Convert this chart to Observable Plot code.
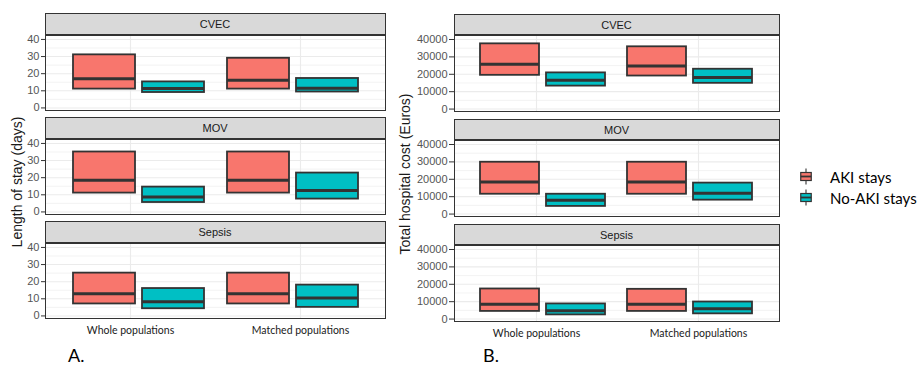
<!DOCTYPE html>
<html>
<head>
<meta charset="utf-8">
<script src="https://cdn.jsdelivr.net/npm/d3@7"></script>
<script src="https://cdn.jsdelivr.net/npm/@observablehq/plot@0.6"></script>
<style>
  html, body { margin: 0; padding: 0; background: #fff; }
  #root { position: relative; width: 919px; height: 367px; overflow: hidden; background: #fff;
          font-family: "Liberation Sans", Arial, sans-serif; }
  .layer { position: absolute; top: 0; }
  .strip { position: absolute; box-sizing: border-box; background: #d9d9d9; border: 1px solid #333;
           color: #1a1a1a; font-size: 11px; display: flex; align-items: center; justify-content: center; }
  .ytitle { position: absolute; white-space: nowrap; font-size: 14px; color: #1a1a1a;
            transform: translate(-50%, -50%) rotate(-90deg); }
  .tag { position: absolute; font-family: Lato, sans-serif; font-size: 18px; line-height: 1; color: #000; }
  .legend { position: absolute; font-family: Lato, sans-serif; font-size: 15px; color: #000; }
  .legend .row { display: flex; align-items: center; height: 21px; }
  .legend .row span { margin-left: 18px; }
</style>
</head>
<body>
<div id="root"></div>
<script>
// ---------- data ----------
const diseases = ["CVEC", "MOV", "Sepsis"];
const populations = ["Whole populations", "Matched populations"];
const groups = ["AKI stays", "No-AKI stays"];
const groupColors = ["#F8766D", "#00BFC4"];

// Length of stay (days): [lower hinge, median, upper hinge] per disease (CVEC, MOV, Sepsis)
const losAkiWhole     = [[11, 17, 31],     [11, 18.5, 35],   [7, 13, 25]];
const losNoAkiWhole   = [[9, 11.3, 15.2],  [5.5, 8.7, 14.5], [4.2, 8.3, 16]];
const losAkiMatched   = [[11, 16.2, 29],   [11, 18.5, 35],   [7, 13, 25]];
const losNoAkiMatched = [[9.3, 11.5, 17.2],[7.5, 12.5, 22.7],[5, 10.4, 18]];

// Total hospital cost (Euros): [lower hinge, median, upper hinge] per disease
const costAkiWhole     = [[19400, 25800, 37500], [11400, 18500, 29800], [4400, 8500, 17300]];
const costNoAkiWhole   = [[13200, 16500, 20800], [4400, 8000, 11400],   [2400, 4800, 8700]];
const costAkiMatched   = [[19000, 24800, 35800], [11400, 18500, 29800], [4400, 8500, 17100]];
const costNoAkiMatched = [[14800, 18200, 22900], [8000, 11900, 17800],  [3000, 5900, 9800]];

const losTicks = [0, 10, 20, 30, 40];
const losMinor = [5, 15, 25, 35];
const costTicks = [0, 10000, 20000, 30000, 40000];
const costMinor = [5000, 15000, 25000, 35000];

const titles = ["Length of stay (days)", "Total hospital cost (Euros)"];
const tags = ["A.", "B."];

// ---------- build tables ----------
function boxRows(akiWhole, noAkiWhole, akiMatched, noAkiMatched) {
  const table = [[0, 0, akiWhole], [0, 1, noAkiWhole], [1, 0, akiMatched], [1, 1, noAkiMatched]];
  return table.flatMap(([p, g, vals]) => vals.map(([q1, med, q3], i) =>
    ({disease: diseases[i], pop: populations[p], group: groups[g], q1, med, q3})));
}
function gridRows(values) {
  return diseases.flatMap(d => values.map(v => ({disease: d, v})));
}

const root = document.getElementById("root");

function panel(cfg) {
  const H = 367;
  const fyOpts = {domain: diseases, paddingInner: cfg.padY, paddingOuter: 0, axis: null};
  const common = {
    width: cfg.width, height: H,
    marginLeft: cfg.marginLeft, marginRight: cfg.marginRight,
    marginTop: cfg.marginTop, marginBottom: cfg.marginBottom
  };
  const bg = Plot.plot({
    ...common,
    style: {fontFamily: "'Liberation Sans', Arial, sans-serif", fontSize: "11px", background: "transparent", overflow: "visible"},
    x: {domain: populations, paddingInner: 0.1, paddingOuter: 0.15},
    y: {domain: cfg.domain},
    fy: fyOpts,
    marks: [
      Plot.ruleY(gridRows(cfg.minor), {y: "v", fy: "disease", stroke: "#ebebeb", strokeWidth: 0.6}),
      Plot.ruleY(gridRows(cfg.ticks), {y: "v", fy: "disease", stroke: "#ebebeb", strokeWidth: 1.1}),
      Plot.ruleX(populations, {x: d => d, stroke: "#ebebeb", strokeWidth: 1.1}),
      Plot.frame({stroke: "#333", strokeWidth: 1}),
      Plot.axisY(cfg.ticks, {tickSize: cfg.tickSize, tickPadding: 2, stroke: "#333", fill: "#555",
                             tickFormat: d3.format("d"), label: null}),
      Plot.axisX({tickSize: 0, tickPadding: 8, fontFamily: "Lato, sans-serif", fontSize: 10.5,
                  fill: "#1a1a1a", label: null})
    ]
  });
  bg.classList.add("layer");
  bg.style.left = cfg.left + "px";
  root.appendChild(bg);

  const fg = Plot.plot({
    ...common,
    style: {background: "transparent", overflow: "visible"},
    fx: {domain: populations, paddingInner: 0.1, paddingOuter: 0.15, axis: null},
    fy: fyOpts,
    x: {domain: groups, paddingInner: 0.1, paddingOuter: 0.05, axis: null},
    y: {domain: cfg.domain, axis: null},
    color: {domain: groups, range: groupColors},
    marks: [
      Plot.barY(cfg.rows, {fx: "pop", fy: "disease", x: "group", y1: "q1", y2: "q3",
                           fill: "group", stroke: "#333", strokeWidth: 1.8}),
      Plot.tickY(cfg.rows, {fx: "pop", fy: "disease", x: "group", y: "med", stroke: "#333", strokeWidth: 3})
    ]
  });
  fg.classList.add("layer");
  fg.style.left = cfg.left + "px";
  root.appendChild(fg);

  // facet strips positioned from the fy scale
  const fy = bg.scale("fy");
  const panelLeft = cfg.left + cfg.marginLeft;
  const panelWidth = cfg.width - cfg.marginLeft - cfg.marginRight;
  for (const d of diseases) {
    const top = fy.apply(d);
    const s = document.createElement("div");
    s.className = "strip";
    s.textContent = d;
    s.style.left = (panelLeft - 0.5) + "px";
    s.style.width = (panelWidth + 1) + "px";
    s.style.top = (top - cfg.stripH) + "px";
    s.style.height = cfg.stripH + "px";
    root.appendChild(s);
  }
  const t = document.createElement("div");
  t.className = "ytitle";
  t.textContent = cfg.title;
  t.style.left = cfg.titleX + "px";
  t.style.top = cfg.titleY + "px";
  root.appendChild(t);

  const tag = document.createElement("div");
  tag.className = "tag";
  tag.textContent = cfg.tag;
  tag.style.left = cfg.tagX + "px";
  tag.style.top = "346px";
  root.appendChild(tag);
}

panel({
  left: 0, width: 390, marginLeft: 45, marginRight: 5, marginTop: 35, marginBottom: 49,
  padY: 0.279, stripH: 22, domain: [-1.5, 42.3], ticks: losTicks, minor: losMinor, tickSize: 4,
  rows: boxRows(losAkiWhole, losNoAkiWhole, losAkiMatched, losNoAkiMatched),
  title: titles[0], titleX: 17, titleY: 182, tag: tags[0], tagX: 68
});

panel({
  left: 390, width: 392, marginLeft: 64, marginRight: 3, marginTop: 33.5, marginBottom: 45.4,
  padY: 0.2795, stripH: 21, domain: [-1400, 42300], ticks: costTicks, minor: costMinor, tickSize: 5,
  rows: boxRows(costAkiWhole, costNoAkiWhole, costAkiMatched, costNoAkiMatched),
  title: titles[1], titleX: 405, titleY: 174, tag: tags[1], tagX: 483
});

// ---------- legend ----------
const legend = document.createElement("div");
legend.className = "legend";
legend.style.left = "800px";
legend.style.top = "166px";
groups.forEach((g, i) => {
  const row = document.createElement("div");
  row.className = "row";
  row.innerHTML =
    `<svg width="12" height="21" style="overflow:visible">` +
    `<line x1="6" x2="6" y1="2.5" y2="18.5" stroke="#333" stroke-width="1.1"/>` +
    `<rect x="0.75" y="6.5" width="10.5" height="8" fill="${groupColors[i]}" stroke="#333" stroke-width="1.2"/>` +
    `<line x1="0.75" x2="11.25" y1="10.5" y2="10.5" stroke="#333" stroke-width="1.8"/>` +
    `</svg><span>${g}</span>`;
  legend.appendChild(row);
});
root.appendChild(legend);
</script>
</body>
</html>
